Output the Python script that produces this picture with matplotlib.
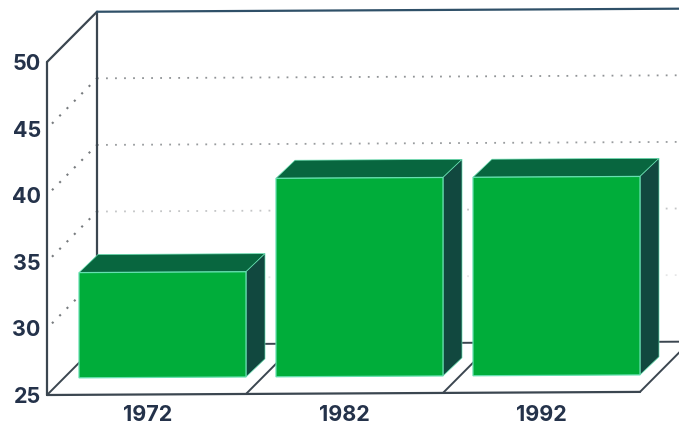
#!/usr/bin/env python
import numpy as np
import matplotlib
matplotlib.use('Agg')
import matplotlib.pyplot as plt
from matplotlib.transforms import Affine2D

years = ['1972', '1982', '1992']
values = [32.9, 39.9, 39.9]
yticks = [25, 30, 35, 40, 45, 50]
grid_levels = [30, 35, 40, 45]
grid_alpha = [0.15, 0.35, 0.6, 0.65]

AXIS = '#3b4650'
TEXT = '#24324a'
FRONT = '#00ad3a'
TOP = '#08663f'
SIDE = '#11483f'
EDGE = '#66e0b0'


def main():
    plt.rcParams['font.family'] = ['Inter', 'DejaVu Sans']
    fig = plt.figure(figsize=(6.79, 4.25), dpi=100, facecolor='white')
    # axes box is the front plane, from the left axis to the picture edge
    ax = fig.add_axes([47 / 679, 30 / 425, 632 / 679, 333 / 425])
    left = -0.5 - 2 / 197
    right = left + 632 / 197
    ax.set_xlim(left, right)
    ax.set_ylim(25, 50)

    # pixels -> data units for the fake 3d depth
    px_x = 1 / 197
    px_y = 25 / 333
    wall_x, wall_y = 50 * px_x, 50 * px_y
    gap_x, gap_y = 15 * px_x, 17 * px_y
    deep_x, deep_y = 19 * px_x, 18 * px_y

    # the scan is a little tilted
    tr = Affine2D().translate(-47, -30).skew_deg(0, 0.3).translate(47, 30)
    tr = ax.transData + tr

    def line(xs, ys, z=2, **kw):
        ax.plot(xs, ys, transform=tr, clip_on=False, zorder=z, solid_capstyle='round', **kw)

    # dotted grid on wall and back
    for level, a in zip(grid_levels, grid_alpha):
        ax.plot([left + 5 * px_x, left + wall_x], [level + 5 * px_y, level + wall_y], transform=tr,
                clip_on=False, zorder=1, color='#555a5e', alpha=0.8, lw=1.5, linestyle=(0, (1, 4)))
        ax.plot([left + wall_x, right], [level + wall_y, level + wall_y], transform=tr,
                clip_on=False, zorder=1, color='#555a5e', alpha=a, lw=1.3, linestyle=(0, (1, 4)))

    # frame
    line([left, left], [25, 50], color=AXIS, lw=1.6)
    line([left, left + wall_x], [50, 50 + wall_y], color=AXIS, lw=1.6)
    line([left + wall_x, left + wall_x], [25 + wall_y, 50 + wall_y], color=AXIS, lw=1.6)
    line([left + wall_x, right], [50 + wall_y, 50 + wall_y], color='#2f5068', lw=1.6)
    line([left + wall_x, right], [25 + wall_y, 25 + wall_y], color=AXIS, lw=1.4)
    line([left, 2.5], [25, 25], color=AXIS, lw=1.6)
    for b in [left, 0.5, 1.5, 2.5]:
        line([b, b + wall_x], [25, 25 + wall_y], color=AXIS, lw=1.4)

    # bars
    ind = np.arange(len(years))
    width = 167 / 197
    base = 25 + gap_y
    for i, v in zip(ind, values):
        x0 = i + gap_x - width / 2
        x1 = x0 + width
        top = v + gap_y
        ax.fill([x0, x1, x1 + deep_x, x0 + deep_x], [top, top, top + deep_y, top + deep_y],
                transform=tr, color=TOP, ec=EDGE, lw=0.5, zorder=3, clip_on=False)
        ax.fill([x1, x1 + deep_x, x1 + deep_x, x1], [base, base + deep_y, top + deep_y, top],
                transform=tr, color=SIDE, ec=EDGE, lw=0.5, zorder=3, clip_on=False)
    ax.bar(ind + gap_x, np.array(values) - 25, width, bottom=base, color=FRONT, edgecolor=EDGE,
           linewidth=0.9, transform=tr, zorder=4, clip_on=False)

    ax.set_xticks(ind)
    ax.set_xticklabels(years)
    ax.set_yticks(yticks)
    ax.tick_params(axis='both', length=0, labelcolor=TEXT, labelsize=15.5)
    ax.tick_params(axis='x', pad=7.5)
    ax.tick_params(axis='y', pad=4.5)
    for lab in ax.get_xticklabels() + ax.get_yticklabels():
        lab.set_fontweight('bold')
    for s in ax.spines.values():
        s.set_visible(False)
    ax.patch.set_visible(False)

    fig.savefig('out.png', dpi=100)


if __name__ == '__main__':
    main()
